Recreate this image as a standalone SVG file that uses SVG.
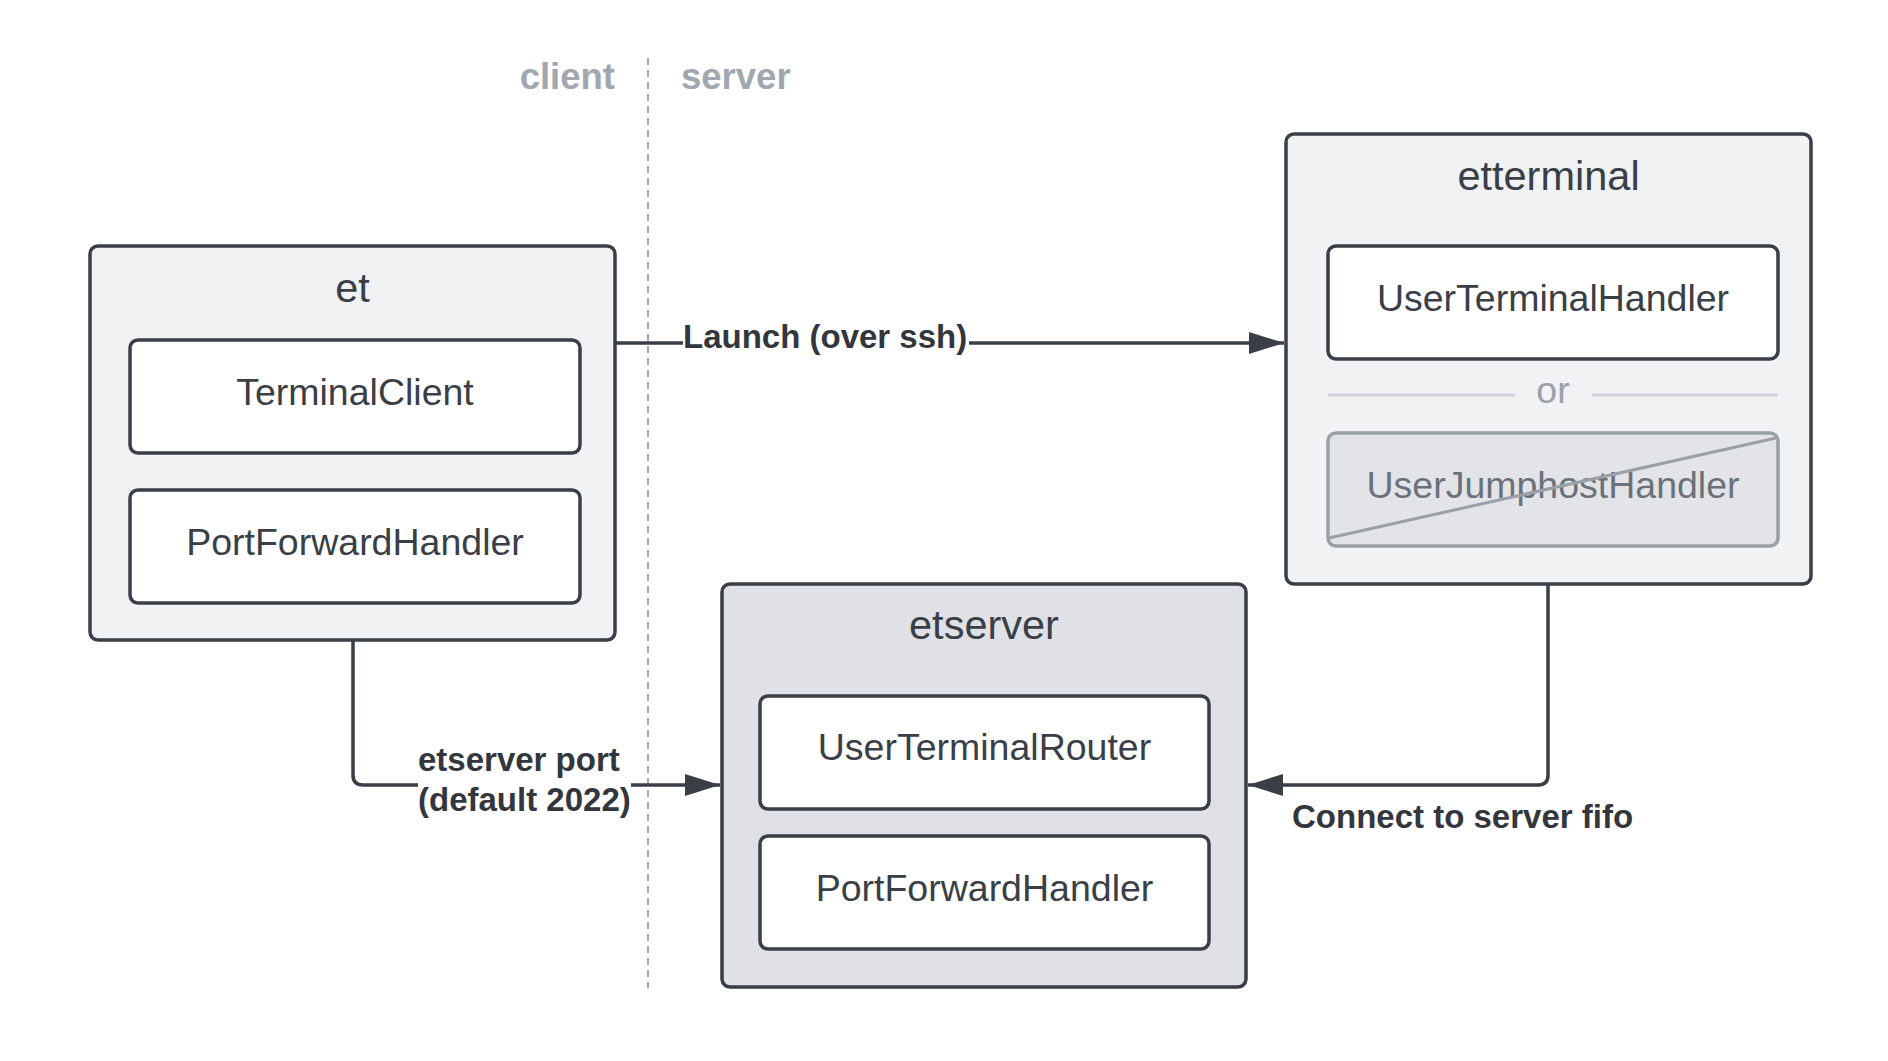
<svg xmlns="http://www.w3.org/2000/svg" width="1888" height="1061" viewBox="0 0 1888 1061">
<style>
text{font-family:"Liberation Sans",Arial,sans-serif}
.outer{fill:#f1f2f4;stroke:#3a3f47;stroke-width:3.5}
.outer2{fill:#dfe1e6;stroke:#3a3f47;stroke-width:3.5}
.inner{fill:#ffffff;stroke:#3a3f47;stroke-width:3.5}
.off{fill:#e3e4e8;stroke:#9aa0a8;stroke-width:3.5}
.title{font-size:41.5px;fill:#3a3f47;text-anchor:middle}
.lbl{font-size:37.5px;fill:#3a3f47;text-anchor:middle}
.lane{font-size:36.5px;font-weight:bold;fill:#a1a7af}
.conn{fill:none;stroke:#3a3f47;stroke-width:3.5}
.clbl{font-size:33px;font-weight:bold;fill:#33373d}
</style>
<defs>
<marker id="arr" markerUnits="userSpaceOnUse" viewBox="0 0 35 22" refX="35" refY="11" markerWidth="35" markerHeight="22" orient="auto">
<path d="M0 0 L35 11 L0 22 Z" fill="#3a3f47"/>
</marker>
</defs>
<rect x="0" y="0" width="1888" height="1061" fill="#ffffff"/>

<g id="lanes">
<line x1="648" y1="58" x2="648" y2="988" stroke="#a1a7af" stroke-width="2" stroke-dasharray="7 5"/>
<text class="lane" x="615" y="89" text-anchor="end">client</text>
<text class="lane" x="681" y="89">server</text>
</g>

<g id="connectors">
<path class="conn" d="M615 343 H1284" stroke-width="4.5" marker-end="url(#arr)"/>
<path class="conn" d="M353 640 V775 Q353 785 363 785 H720" marker-end="url(#arr)"/>
<path class="conn" d="M1548 584 V775 Q1548 785 1538 785 H1248" marker-end="url(#arr)"/>
<rect x="683" y="322" width="286" height="40" fill="#ffffff"/>
<text class="clbl" x="683" y="348">Launch (over ssh)</text>
<rect x="418" y="742" width="213" height="80" fill="#ffffff"/>
<text class="clbl" x="418" y="771">etserver port</text>
<text class="clbl" x="418" y="811">(default 2022)</text>
<text class="clbl" x="1292" y="828">Connect to server fifo</text>
</g>

<g id="et">
<rect class="outer" x="90" y="246" width="525" height="394" rx="8"/>
<text class="title" x="352.5" y="302">et</text>
</g>
<g id="terminalclient">
<rect class="inner" x="130" y="340" width="450" height="113" rx="8"/>
<text class="lbl" x="355" y="405">TerminalClient</text>
</g>
<g id="portforwardhandler-client">
<rect class="inner" x="130" y="490" width="450" height="113" rx="8"/>
<text class="lbl" x="355" y="555">PortForwardHandler</text>
</g>

<g id="etterminal">
<rect class="outer" x="1286" y="134" width="525" height="450" rx="8"/>
<text class="title" x="1548.5" y="190">etterminal</text>
</g>
<g id="userterminalhandler">
<rect class="inner" x="1328" y="246" width="450" height="113" rx="8"/>
<text class="lbl" x="1553" y="311">UserTerminalHandler</text>
</g>
<g id="or">
<line x1="1328" y1="395" x2="1515" y2="395" stroke="#d1d5db" stroke-width="3"/>
<line x1="1592" y1="395" x2="1778" y2="395" stroke="#d1d5db" stroke-width="3"/>
<text class="lbl" x="1553" y="403" style="fill:#9ba1a9">or</text>
</g>
<g id="userjumphosthandler">
<rect class="off" x="1328" y="433" width="450" height="113" rx="8"/>
<text class="lbl" x="1553" y="498" style="fill:#6b717b">UserJumphostHandler</text>
<line x1="1329" y1="538" x2="1776" y2="438" stroke="#9aa0a8" stroke-width="3"/>
</g>

<g id="etserver">
<rect class="outer2" x="722" y="584" width="524" height="403" rx="8"/>
<text class="title" x="984" y="639">etserver</text>
</g>
<g id="userterminalrouter">
<rect class="inner" x="760" y="696" width="449" height="113" rx="8"/>
<text class="lbl" x="984.5" y="760">UserTerminalRouter</text>
</g>
<g id="portforwardhandler-server">
<rect class="inner" x="760" y="836" width="449" height="113" rx="8"/>
<text class="lbl" x="984.5" y="901">PortForwardHandler</text>
</g>
</svg>
